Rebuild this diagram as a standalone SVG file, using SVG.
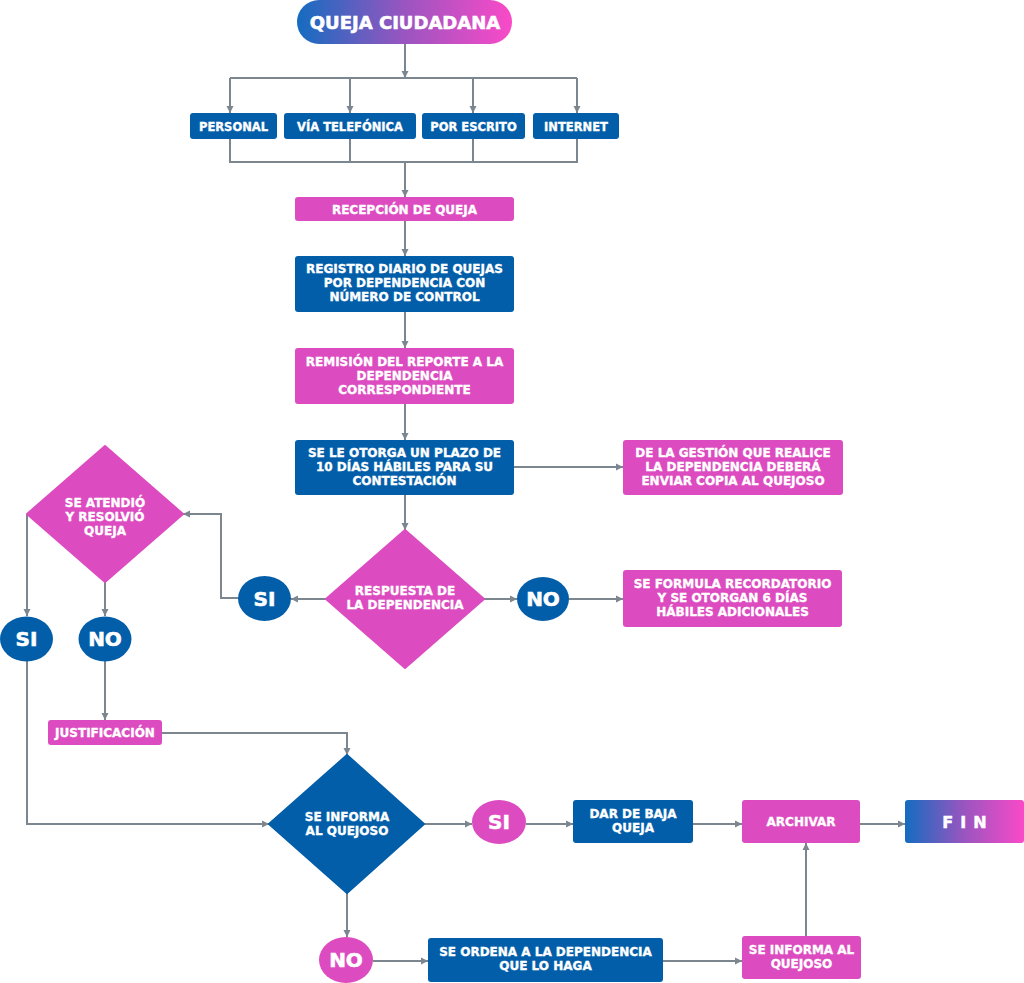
<svg xmlns="http://www.w3.org/2000/svg" width="1024" height="983" viewBox="0 0 1024 983">
<defs>
<linearGradient id="grad" x1="0" y1="0" x2="1" y2="0">
<stop offset="0" stop-color="#146cc0"/>
<stop offset="0.5" stop-color="#9a55c0"/>
<stop offset="1" stop-color="#fa4ac8"/>
</linearGradient>
<marker id="arr" markerWidth="8" markerHeight="8" refX="7" refY="4" orient="auto" markerUnits="userSpaceOnUse">
<path d="M0,0.5 L7,4 L0,7.5 Z" fill="#7b868f"/>
</marker>
<style>
.b{fill:#035ea9}
.p{fill:#dc4cc0}
.t{fill:#fff;stroke:#fff;stroke-width:0.35px;font-family:"DejaVu Sans","Open Sans",sans-serif;font-weight:bold;font-size:12px;text-anchor:middle}
.big{font-size:20px;stroke-width:0.6px}
.c{fill:none;stroke:#7b868f;stroke-width:2}
.a{marker-end:url(#arr)}
</style>
</defs>
<g id="connectors">
<path class="c a" d="M405,44 V78"/>
<path class="c" d="M230,78 H577"/>
<path class="c a" d="M230,78 V113"/>
<path class="c a" d="M350,78 V113"/>
<path class="c a" d="M473,78 V113"/>
<path class="c a" d="M577,78 V113"/>
<path class="c" d="M230,139 V162 H577 V139 M350,139 V162 M473,139 V162"/>
<path class="c a" d="M405,162 V197"/>
<path class="c a" d="M405,221 V256"/>
<path class="c a" d="M405,312 V348"/>
<path class="c a" d="M405,404 V440"/>
<path class="c a" d="M405,495 V530"/>
<path class="c a" d="M514,467 H623"/>
<path class="c a" d="M484,599 H517"/>
<path class="c a" d="M569,599 H623"/>
<path class="c a" d="M327,599 H291"/>
<path class="c a" d="M238,598 H221 V514 H183"/>
<path class="c a" d="M27,514 V616"/>
<path class="c a" d="M105,582 V616"/>
<path class="c a" d="M105,661 V720"/>
<path class="c a" d="M162,733 H347 V755"/>
<path class="c a" d="M27,661 V824 H269"/>
<path class="c a" d="M424,824 H472"/>
<path class="c a" d="M526,824 H573"/>
<path class="c a" d="M693,824 H742"/>
<path class="c a" d="M860,824 H905"/>
<path class="c a" d="M347,893 V937"/>
<path class="c a" d="M373,961 H428"/>
<path class="c a" d="M663,961 H742"/>
<path class="c a" d="M806,937 V843"/>
</g>
<g id="n-queja">
<rect x="297" y="0" width="215" height="44" rx="22" fill="url(#grad)"/>
<text class="t" x="405" y="28.5" style="font-size:18px;stroke-width:0.6px">QUEJA CIUDADANA</text>
</g>
<g id="n-personal">
<rect class="b" x="190" y="113" width="87" height="26" rx="3"/>
<text class="t" x="233.5" y="130.5" style="font-size:11.5px">PERSONAL</text>
</g>
<g id="n-telefonica">
<rect class="b" x="284" y="113" width="132" height="26" rx="3"/>
<text class="t" x="350" y="130.5" style="font-size:11.5px">VÍA TELEFÓNICA</text>
</g>
<g id="n-escrito">
<rect class="b" x="422" y="113" width="103" height="26" rx="3"/>
<text class="t" x="473.5" y="130.5" style="font-size:11.5px">POR ESCRITO</text>
</g>
<g id="n-internet">
<rect class="b" x="533" y="113" width="86" height="26" rx="3"/>
<text class="t" x="576" y="130.5" style="font-size:11.5px">INTERNET</text>
</g>
<g id="n-recepcion">
<rect class="p" x="295" y="197" width="219" height="24" rx="3"/>
<text class="t" x="404.5" y="213.5">RECEPCIÓN DE QUEJA</text>
</g>
<g id="n-registro">
<rect class="b" x="295" y="256" width="219" height="56" rx="3"/>
<text class="t" x="404.5" y="273">REGISTRO DIARIO DE QUEJAS</text>
<text class="t" x="404.5" y="287">POR DEPENDENCIA CON</text>
<text class="t" x="404.5" y="301">NÚMERO DE CONTROL</text>
</g>
<g id="n-remision">
<rect class="p" x="295" y="348" width="219" height="56" rx="3"/>
<text class="t" x="404.5" y="366">REMISIÓN DEL REPORTE A LA</text>
<text class="t" x="404.5" y="380">DEPENDENCIA</text>
<text class="t" x="404.5" y="394">CORRESPONDIENTE</text>
</g>
<g id="n-plazo">
<rect class="b" x="295" y="440" width="219" height="55" rx="3"/>
<text class="t" x="404.5" y="457">SE LE OTORGA UN PLAZO DE</text>
<text class="t" x="404.5" y="471">10 DÍAS HÁBILES PARA SU</text>
<text class="t" x="404.5" y="485">CONTESTACIÓN</text>
</g>
<g id="n-gestion">
<rect class="p" x="623" y="440" width="220" height="55" rx="3"/>
<text class="t" x="733" y="457">DE LA GESTIÓN QUE REALICE</text>
<text class="t" x="733" y="471">LA DEPENDENCIA DEBERÁ</text>
<text class="t" x="733" y="485">ENVIAR COPIA AL QUEJOSO</text>
</g>
<g id="n-respuesta">
<path class="p" d="M405,530 L484,599 L405,668 L326,599 Z" stroke="#dc4cc0" stroke-width="2" stroke-linejoin="round"/>
<text class="t" x="405" y="595">RESPUESTA DE</text>
<text class="t" x="405" y="609">LA DEPENDENCIA</text>
</g>
<g id="n-no1">
<ellipse class="b" cx="543" cy="599" rx="26" ry="22"/>
<text class="t big" x="543" y="606">NO</text>
</g>
<g id="n-recordatorio">
<rect class="p" x="623" y="570" width="219" height="57" rx="3"/>
<text class="t" x="732.5" y="588">SE FORMULA RECORDATORIO</text>
<text class="t" x="732.5" y="602">Y SE OTORGAN 6 DÍAS</text>
<text class="t" x="732.5" y="616">HÁBILES ADICIONALES</text>
</g>
<g id="n-si1">
<ellipse class="b" cx="264.5" cy="598.5" rx="26.5" ry="22.5"/>
<text class="t big" x="264.5" y="605.5">SI</text>
</g>
<g id="n-atendio">
<path class="p" d="M105,446 L183,514 L105,582 L27,514 Z" stroke="#dc4cc0" stroke-width="2" stroke-linejoin="round"/>
<text class="t" x="105" y="507">SE ATENDIÓ</text>
<text class="t" x="105" y="521">Y RESOLVIÓ</text>
<text class="t" x="105" y="535">QUEJA</text>
</g>
<g id="n-si2">
<ellipse class="b" cx="26.5" cy="639" rx="26.5" ry="22.5"/>
<text class="t big" x="26.5" y="646">SI</text>
</g>
<g id="n-no2">
<ellipse class="b" cx="105" cy="639" rx="26.5" ry="22.5"/>
<text class="t big" x="105" y="646">NO</text>
</g>
<g id="n-justificacion">
<rect class="p" x="48" y="720" width="114" height="25" rx="3"/>
<text class="t" x="105" y="736.5">JUSTIFICACIÓN</text>
</g>
<g id="n-informa">
<path class="b" d="M347,755 L424,824 L347,893 L269,824 Z" stroke="#035ea9" stroke-width="2" stroke-linejoin="round"/>
<text class="t" x="347" y="821">SE INFORMA</text>
<text class="t" x="347" y="835">AL QUEJOSO</text>
</g>
<g id="n-si3">
<ellipse class="p" cx="499" cy="822" rx="27" ry="22"/>
<text class="t big" x="499" y="829">SI</text>
</g>
<g id="n-baja">
<rect class="b" x="573" y="800" width="120" height="43" rx="3"/>
<text class="t" x="633" y="818">DAR DE BAJA</text>
<text class="t" x="633" y="832">QUEJA</text>
</g>
<g id="n-archivar">
<rect class="p" x="742" y="800" width="118" height="43" rx="3"/>
<text class="t" x="801" y="826">ARCHIVAR</text>
</g>
<g id="n-fin">
<rect x="905" y="800" width="119" height="43" rx="3" fill="url(#grad)"/>
<text class="t" x="968" y="828" style="font-size:16px;letter-spacing:7px;stroke-width:0.5px">FIN</text>
</g>
<g id="n-no3">
<ellipse class="p" cx="346" cy="960" rx="27" ry="23"/>
<text class="t big" x="346" y="967">NO</text>
</g>
<g id="n-ordena">
<rect class="b" x="428" y="938" width="235" height="44" rx="3"/>
<text class="t" x="545.5" y="956">SE ORDENA A LA DEPENDENCIA</text>
<text class="t" x="545.5" y="970">QUE LO HAGA</text>
</g>
<g id="n-informa2">
<rect class="p" x="742" y="936" width="119" height="43" rx="3"/>
<text class="t" x="801.5" y="954">SE INFORMA AL</text>
<text class="t" x="801.5" y="968">QUEJOSO</text>
</g>
</svg>
